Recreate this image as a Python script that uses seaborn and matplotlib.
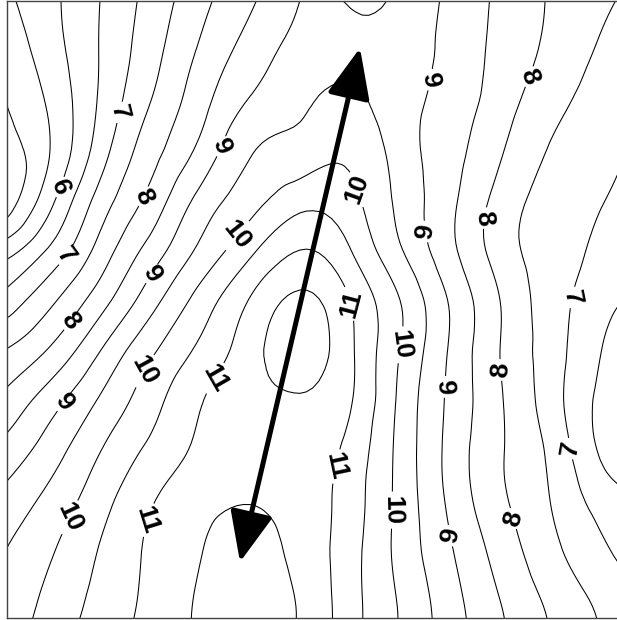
import numpy as np
import matplotlib
matplotlib.use('Agg')
import matplotlib.pyplot as plt
import matplotlib.tri as mtri
from matplotlib import font_manager
import seaborn as sns

# grid nodes in image pixels (x to the right, y downward)
xs = [0, 50, 100, 150, 200, 250, 300, 350, 400, 450, 500, 550, 600, 650]
ys = [0, 50, 100, 150, 200, 250, 300, 350, 400, 450, 500, 550, 600, 650]

# values, one row per y node
z_y000 = [5.35, 5.87, 6.50, 7.17, 7.84, 8.43, 9.00, 9.55, 9.40, 8.89, 8.40, 7.96, 7.60, 7.30]
z_y050 = [5.10, 5.77, 6.52, 7.29, 8.06, 8.70, 9.20, 9.42, 9.30, 8.85, 8.36, 7.89, 7.45, 7.10]
z_y100 = [4.95, 5.59, 6.56, 7.48, 8.30, 9.03, 9.40, 9.58, 9.22, 8.80, 8.25, 7.69, 7.29, 6.95]
z_y150 = [4.70, 5.50, 6.75, 7.78, 8.62, 9.45, 9.71, 9.88, 9.27, 8.69, 8.06, 7.47, 7.16, 6.85]
z_y200 = [4.55, 5.85, 7.20, 8.15, 9.15, 9.80, 10.30, 10.15, 9.37, 8.62, 7.82, 7.32, 7.03, 6.75]
z_y250 = [5.70, 6.58, 7.68, 8.68, 9.60, 10.38, 11.00, 10.52, 9.55, 8.63, 7.77, 7.25, 6.90, 6.60]
z_y300 = [6.60, 7.38, 8.27, 9.28, 10.19, 11.03, 11.60, 11.00, 10.00, 8.95, 8.00, 7.25, 6.70, 6.30]
z_y350 = [7.47, 8.05, 8.98, 9.89, 10.60, 11.30, 11.75, 11.10, 10.00, 8.95, 8.00, 7.25, 6.52, 6.10]
z_y400 = [8.05, 8.76, 9.55, 10.29, 10.96, 11.35, 11.45, 11.05, 9.90, 8.90, 8.05, 7.25, 6.40, 6.10]
z_y450 = [8.60, 9.25, 9.98, 10.60, 11.10, 11.33, 11.30, 10.85, 9.85, 8.85, 8.05, 7.40, 6.45, 6.20]
z_y500 = [9.10, 9.65, 10.30, 10.94, 11.35, 11.48, 11.30, 10.75, 9.85, 8.90, 8.10, 7.50, 6.80, 6.50]
z_y550 = [9.45, 9.94, 10.53, 11.08, 11.48, 11.65, 11.35, 10.70, 9.85, 9.05, 8.30, 7.65, 7.10, 6.70]
z_y600 = [9.60, 10.13, 10.65, 11.12, 11.55, 11.70, 11.45, 10.70, 9.95, 9.20, 8.50, 7.90, 7.40, 7.00]
z_y650 = [9.75, 10.30, 10.80, 11.20, 11.55, 11.65, 11.45, 10.70, 9.95, 9.25, 8.60, 8.00, 7.50, 7.10]

half_levels = [4.5, 5, 5.5, 6.5, 7.5, 8.5, 9.5, 10.5, 11.5]
label_levels = [6, 7, 8, 9, 10, 11]

# where the integer labels sit on the reference
label_spots = [(122, 113), (223, 147), (63, 188), (145, 197), (233, 232), (67, 257),
               (152, 274), (72, 322), (143, 370), (65, 403), (213, 377), (65, 515),
               (148, 520), (355, 190), (345, 305), (330, 465), (432, 80), (525, 75),
               (435, 230), (484, 218), (570, 297), (402, 345), (447, 387), (500, 370),
               (563, 450), (387, 510), (443, 537), (508, 520)]

arrow_tail = (240, 562)
arrow_head = (360, 48)

sns.set_style('white')


def pick_font(names):
    for name in names:
        try:
            font_manager.findfont(name, fallback_to_default=False)
            return name
        except ValueError:
            continue
    return 'DejaVu Sans'


sans = pick_font(['Liberation Sans', 'Arimo', 'Roboto', 'Open Sans'])
plt.rcParams['font.family'] = [sans, 'DejaVu Sans']
plt.rcParams['font.size'] = 19

Z = np.array([z_y000, z_y050, z_y100, z_y150, z_y200, z_y250, z_y300,
              z_y350, z_y400, z_y450, z_y500, z_y550, z_y600, z_y650])
X, Y = np.meshgrid(xs, ys)
nx, ny = len(xs), len(ys)

# split every grid cell the same alternating way (avoids random Delaunay diagonals)
triangles = []
for j in range(ny - 1):
    for i in range(nx - 1):
        a = j * nx + i
        b = a + 1
        c = a + nx
        d = c + 1
        if (i + j) % 2 == 0:
            triangles += [[a, b, d], [a, d, c]]
        else:
            triangles += [[a, b, c], [b, d, c]]

tri = mtri.Triangulation(X.ravel(), Y.ravel(), triangles=triangles)
refiner = mtri.UniformTriRefiner(tri)
tri_f, z_f = refiner.refine_field(Z.ravel(), subdiv=3)

fig = plt.figure(figsize=(6.17, 6.20), dpi=100)
ax = fig.add_axes([7 / 617, 2 / 620, 616 / 617, 617 / 620])

ax.tricontour(tri_f, z_f, levels=half_levels, colors='black', linewidths=0.75)
cs = ax.tricontour(tri_f, z_f, levels=label_levels, colors='black', linewidths=0.75)
texts = ax.clabel(cs, manual=label_spots, fmt='%d', fontsize=19, inline=True, inline_spacing=3)
for t in texts:
    t.set_fontsize(19)
    t.set_fontfamily(sans)
    t.set_fontweight('bold')

ax.annotate('', xy=arrow_head, xytext=arrow_tail,
            arrowprops=dict(arrowstyle='<|-|>,head_length=1.4,head_width=0.6',
                            lw=3.6, color='black', mutation_scale=22,
                            shrinkA=0, shrinkB=0))

ax.set_xlim(7, 623)
ax.set_ylim(618, 1)
ax.set_xticks([])
ax.set_yticks([])
for side in ['left', 'top', 'bottom', 'right']:
    ax.spines[side].set_color('#444444')
    ax.spines[side].set_linewidth(1.0)

fig.savefig('out.png', dpi=100)
